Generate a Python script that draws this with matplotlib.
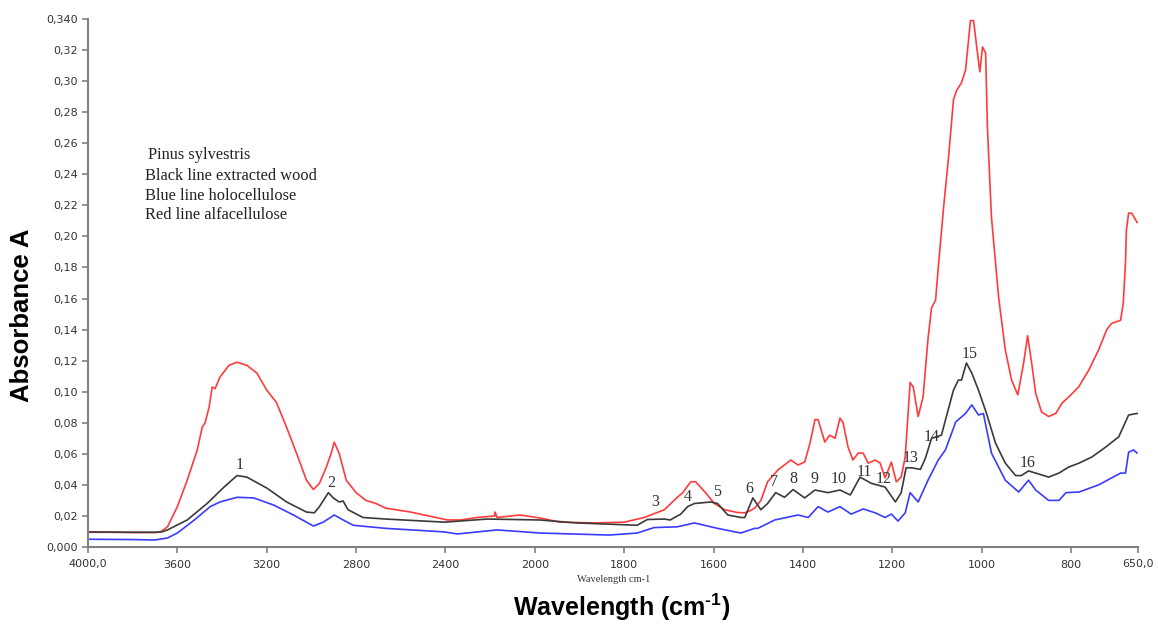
import numpy as np
import matplotlib
matplotlib.use("Agg")
import matplotlib.pyplot as plt

# ---------------- data ----------------
red_wn = [4000, 3900, 3800, 3700, 3676, 3644, 3600, 3556, 3511, 3489, 3476, 3458, 3444, 3431, 3409,
          3369, 3333, 3289, 3244, 3200, 3156, 3111, 3067, 3022, 2991, 2964, 2933, 2911, 2898, 2876,
          2844, 2800, 2756, 2711, 2667, 2556, 2391, 2333, 2258, 2180, 2178, 2169, 2067, 1989, 1944,
          1867, 1800, 1755, 1710, 1681, 1669, 1651, 1640, 1618, 1598, 1575, 1546, 1530, 1517, 1508,
          1494, 1479, 1456, 1427, 1411, 1396, 1384, 1373, 1366, 1351, 1340, 1328, 1317, 1310, 1299,
          1288, 1276, 1265, 1254, 1238, 1227, 1216, 1202, 1191, 1180, 1171, 1160, 1153, 1142, 1131,
          1120, 1112, 1103, 1097, 1085, 1074, 1063, 1056, 1045, 1036, 1025, 1018, 1011, 1004, 998,
          991, 987, 978, 962, 947, 933, 919, 906, 897, 888, 879, 866, 850, 834, 820, 805, 783, 760,
          738, 720, 709, 689, 683, 678, 676, 671, 664, 652]
red_a = [0.0095, 0.0095, 0.0093, 0.0093, 0.0097, 0.013, 0.026, 0.043, 0.0625, 0.077, 0.080, 0.090,
         0.103, 0.102, 0.1095, 0.117, 0.119, 0.117, 0.112, 0.101, 0.093, 0.077, 0.0605, 0.043, 0.037,
         0.041, 0.0515, 0.0605, 0.0675, 0.0605, 0.043, 0.035, 0.030, 0.028, 0.025, 0.0225, 0.0174,
         0.0174, 0.019, 0.020, 0.0225, 0.019, 0.0206, 0.0187, 0.016, 0.0155, 0.016, 0.019, 0.024,
         0.032, 0.035, 0.042, 0.042, 0.035, 0.028, 0.024, 0.0222, 0.022, 0.0235, 0.025, 0.030, 0.042,
         0.0496, 0.056, 0.0528, 0.0547, 0.067, 0.082, 0.082, 0.0676, 0.072, 0.070, 0.083, 0.080,
         0.0644, 0.056, 0.0605, 0.0605, 0.054, 0.056, 0.054, 0.0445, 0.0547, 0.042, 0.045, 0.058,
         0.106, 0.103, 0.084, 0.0966, 0.134, 0.154, 0.159, 0.180, 0.219, 0.251, 0.288, 0.294, 0.299,
         0.307, 0.339, 0.339, 0.322, 0.306, 0.322, 0.318, 0.270, 0.2125, 0.161, 0.127, 0.1075, 0.098,
         0.1185, 0.136, 0.1185, 0.099, 0.087, 0.084, 0.086, 0.0927, 0.0966, 0.103, 0.114, 0.127,
         0.140, 0.144, 0.146, 0.157, 0.183, 0.204, 0.215, 0.215, 0.209]

black_wn = [4000, 3800, 3700, 3670, 3644, 3556, 3467, 3391, 3333, 3289, 3200, 3111, 3022, 2987, 2964,
            2924, 2902, 2876, 2858, 2836, 2769, 2667, 2404, 2213, 1989, 1906, 1771, 1748, 1710, 1697,
            1681, 1674, 1658, 1643, 1606, 1591, 1568, 1539, 1530, 1512, 1494, 1479, 1461, 1441, 1422,
            1396, 1373, 1344, 1317, 1294, 1272, 1247, 1216, 1193, 1180, 1169, 1157, 1137, 1126, 1112,
            1090, 1063, 1052, 1045, 1034, 1022, 1007, 989, 969, 947, 924, 911, 895, 879, 850, 827, 805,
            782, 753, 722, 693, 671, 652]
black_a = [0.0097, 0.0095, 0.0095, 0.0097, 0.011, 0.0174, 0.028, 0.0386, 0.046, 0.045, 0.038, 0.029,
           0.0225, 0.022, 0.026, 0.035, 0.0316, 0.029, 0.0296, 0.024, 0.019, 0.018, 0.016, 0.018,
           0.0174, 0.0155, 0.014, 0.0177, 0.018, 0.0174, 0.020, 0.021, 0.026, 0.028, 0.029, 0.028,
           0.0206, 0.019, 0.019, 0.0316, 0.024, 0.028, 0.035, 0.032, 0.037, 0.0316, 0.0367, 0.035,
           0.0367, 0.0335, 0.045, 0.041, 0.0386, 0.029, 0.035, 0.051, 0.051, 0.050, 0.057, 0.070,
           0.072, 0.101, 0.1075, 0.1075, 0.1185, 0.112, 0.101, 0.086, 0.067, 0.054, 0.046, 0.046,
           0.049, 0.0476, 0.045, 0.0476, 0.0515, 0.054, 0.058, 0.0644, 0.071, 0.085, 0.086]

blue_wn = [4000, 3800, 3702, 3644, 3600, 3524, 3453, 3409, 3333, 3258, 3169, 3080, 2991, 2947, 2898,
           2858, 2813, 2667, 2404, 2347, 2258, 2169, 1989, 1833, 1771, 1733, 1681, 1643, 1591, 1539,
           1508, 1501, 1463, 1411, 1388, 1366, 1344, 1317, 1292, 1265, 1238, 1216, 1202, 1187, 1171,
           1160, 1142, 1120, 1097, 1081, 1058, 1036, 1022, 1007, 996, 978, 947, 917, 895, 879, 850,
           827, 811, 782, 738, 689, 678, 671, 660, 652]
blue_a = [0.005, 0.0048, 0.0045, 0.0058, 0.009, 0.0174, 0.026, 0.029, 0.032, 0.0316, 0.027, 0.0206,
          0.0135, 0.016, 0.0206, 0.0174, 0.014, 0.012, 0.0097, 0.0084, 0.0097, 0.011, 0.009, 0.0077,
          0.009, 0.0125, 0.013, 0.0155, 0.012, 0.009, 0.012, 0.012, 0.0174, 0.0206, 0.019, 0.026,
          0.0225, 0.026, 0.0212, 0.0245, 0.022, 0.019, 0.0212, 0.0167, 0.022, 0.035, 0.029, 0.043,
          0.056, 0.0625, 0.0805, 0.086, 0.0915, 0.085, 0.086, 0.0605, 0.043, 0.0354, 0.043, 0.0367,
          0.030, 0.030, 0.035, 0.0354, 0.040, 0.0476, 0.0476, 0.061, 0.0625, 0.0605]

peak_labels = ["1", "2", "3", "4", "5", "6", "7", "8", "9", "10", "11", "12", "13", "14", "15", "16"]
peak_wn = [3320, 2911, 1730, 1658, 1591, 1519, 1465, 1422, 1373, 1321, 1263, 1220, 1160, 1112, 1027, 897]
peak_a = [0.053, 0.041, 0.029, 0.032, 0.0355, 0.0374, 0.042, 0.044, 0.044, 0.044, 0.048, 0.044,
          0.057, 0.071, 0.124, 0.054]

xticks = [4000, 3600, 3200, 2800, 2400, 2000, 1800, 1600, 1400, 1200, 1000, 800, 650]
xtick_labels = ["4000,0", "3600", "3200", "2800", "2400", "2000", "1800", "1600", "1400",
                "1200", "1000", "800", "650,0"]
yticks = [0.0, 0.02, 0.04, 0.06, 0.08, 0.10, 0.12, 0.14, 0.16, 0.18, 0.20, 0.22, 0.24, 0.26,
          0.28, 0.30, 0.32, 0.34]
ytick_labels = ["0,000", "0,02", "0,04", "0,06", "0,08", "0,10", "0,12", "0,14", "0,16", "0,18",
                "0,20", "0,22", "0,24", "0,26", "0,28", "0,30", "0,32", "0,340"]

legend_lines = ["Pinus sylvestris", "Black line extracted wood", "Blue line holocellulose",
                "Red line alfacellulose"]

# ---------------- figure ----------------
plt.rcParams["mathtext.fontset"] = "custom"
plt.rcParams["mathtext.rm"] = "Liberation Sans:bold"
plt.rcParams["mathtext.bf"] = "Liberation Sans:bold"

fig = plt.figure(figsize=(11.58, 6.25), dpi=100)
ax = fig.add_axes([88 / 1158, 78 / 625, 1050 / 1158, 528 / 625])


def fwd(x):
    x = np.asarray(x, dtype=float)
    return np.where(x >= 2000, x, 2 * x - 2000)


def inv(y):
    y = np.asarray(y, dtype=float)
    return np.where(y >= 2000, y, (y + 2000) / 2)


ax.set_xscale("function", functions=(fwd, inv))

ax.plot(red_wn, red_a, color="#ff3b3b", lw=1.2)
ax.plot(black_wn, black_a, color="#3a3a3a", lw=1.2)
ax.plot(blue_wn, blue_a, color="#3b3bff", lw=1.2)

ax.set_xlim(4000, 650)
ax.set_ylim(0, 0.34)

ax.set_xticks(xticks)
ax.set_xticklabels(xtick_labels)
ax.minorticks_off()
ax.set_yticks(yticks)
ax.set_yticklabels(ytick_labels)

for s in ["top", "right"]:
    ax.spines[s].set_visible(False)
for s in ["left", "bottom"]:
    ax.spines[s].set_color("#808080")
    ax.spines[s].set_linewidth(1.5)

ax.tick_params(axis="both", colors="#808080", labelcolor="#333333", labelsize=8,
               direction="out", length=4, width=1.2)
ax.tick_params(axis="x", pad=5)

for lab, x, y in zip(peak_labels, peak_wn, peak_a):
    ax.text(x, y, lab, fontsize=11.5, family="Liberation Serif", color="#333333",
            ha="center", va="center")

leg_y = [155, 176, 196, 215]
leg_x = [148, 145, 145, 145]
for t, lx, ly in zip(legend_lines, leg_x, leg_y):
    fig.text(lx / 1158, 1 - ly / 625, t, fontsize=11.8, family="Liberation Serif",
             color="#222222", ha="left", va="center")

fig.text(614 / 1158, 1 - 579 / 625, "Wavelength cm-1", fontsize=7.5, family="Liberation Serif",
         color="#333333", ha="center", va="center")

fig.text(622 / 1158, 1 - 607 / 625, r"Wavelength (cm$^{\text{-1}}$)", fontsize=18,
         fontweight="bold", family="Liberation Sans", ha="center", va="center")
fig.text(22 / 1158, 1 - 315 / 625, "Absorbance A", fontsize=18.5, fontweight="bold",
         family="Liberation Sans", rotation=90, ha="center", va="center")

fig.savefig("out.png", dpi=100)
